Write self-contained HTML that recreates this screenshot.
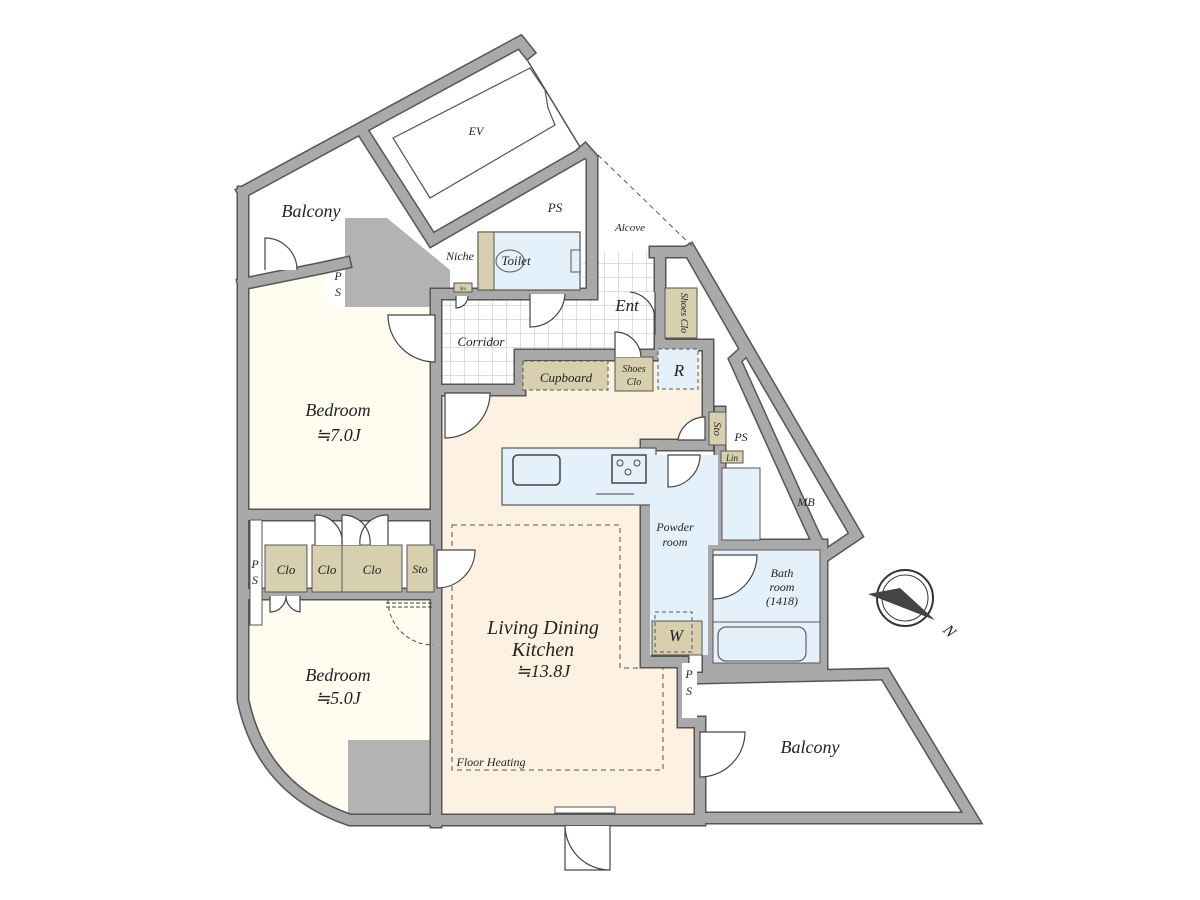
<!DOCTYPE html>
<html><head><meta charset="utf-8"><style>
html,body{margin:0;padding:0;background:#fff;width:1200px;height:900px;overflow:hidden}
text{font-family:"Liberation Serif",serif;font-style:italic;fill:#222}
</style></head><body>
<svg width="1200" height="900" viewBox="0 0 1200 900" xmlns="http://www.w3.org/2000/svg">
<defs>
<pattern id="grid" width="14" height="14" patternUnits="userSpaceOnUse" x="437" y="292">
<rect width="14" height="14" fill="#fff"/><path d="M14 0V14H0" fill="none" stroke="#bbb" stroke-width="1"/></pattern>
<g id="walls" fill="none" stroke-linejoin="miter" stroke-linecap="square">
<path d="M243,192 L243,700 Q262,790 350,820 L700,820"/>
<path d="M700,818 L972,818 L885,674 L700,678"/>
<path d="M243,192 L520,42 L528,52"/>
<path d="M243,284 L322,268 L345,263"/>
<path d="M363,132 L432,240 L585,152"/>
<path d="M585,150 L592,158 L592,292"/>
<path d="M436,300 L436,822"/>
<path d="M243,515 L436,515"/>
<path d="M243,594 L436,594"/>
<path d="M436,294 L592,294"/>
<path d="M655,252 L690,252 L746,350 L735,360 L808,522 L822,552 L822,668"/>
<path d="M690,250 L856,535 L825,556"/>
<path d="M660,252 L660,345 L708,345 L708,445 L646,445 L646,662 L683,662 L683,722 L700,722 L700,818"/>
<path d="M708,545 L822,545 M708,545 L708,668 L822,668"/>
<path d="M720,445 L720,548 M720,412 L720,445"/>
<path d="M520,355 L655,355 M520,355 L520,390 L437,390"/>
</g>
</defs>

<!-- fills -->
<polygon points="247,288 320,272 332,307 435,307 435,515 247,515" fill="#fefdf0"/>
<path d="M247,595 L435,595 L435,740 L348,740 L348,815 Q275,790 247,705 Z" fill="#fefdf0"/>
<polygon points="345,218 387,218 450,270 450,307 345,307" fill="#b3b3b3"/>
<polygon points="348,740 435,740 435,820 348,820" fill="#b3b3b3"/>
<polygon points="437,390 520,390 520,358 705,358 705,445 645,445 645,660 682,660 682,720 697,720 697,814 437,814" fill="#fdf1e1"/>
<polygon points="437,300 480,300 480,292 583,292 583,252 660,252 660,345 612,345 612,356 520,356 520,388 437,388" fill="url(#grid)"/>
<!-- EV -->
<polygon points="363,132 520,48 583,152 432,240" fill="#fff" stroke="#555" stroke-width="1.5"/>
<polygon points="393,138 530,68 545,90 548,108 555,125 430,198" fill="#fff" stroke="#555" stroke-width="1.2"/>

<!-- walls -->
<use href="#walls" stroke="#555" stroke-width="13"/>
<use href="#walls" stroke="#a9a9a9" stroke-width="10"/>

<!-- rooms on top -->
<rect x="478" y="232" width="102" height="58" fill="#e5f1fa" stroke="#555" stroke-width="1.2"/>
<rect x="478" y="232" width="16" height="58" fill="#d8cfae" stroke="#555" stroke-width="1"/>
<ellipse cx="510" cy="261" rx="14" ry="11" fill="#e5f1fa" stroke="#555"/>
<rect x="571" y="250" width="9" height="22" fill="#e5f1fa" stroke="#555"/>
<rect x="454" y="283" width="18" height="9" fill="#d8cfae" stroke="#555"/>
<rect x="665" y="288" width="32" height="50" fill="#d8cfae" stroke="#555"/>
<rect x="615" y="357" width="38" height="34" fill="#d8cfae" stroke="#555"/>
<rect x="523" y="361" width="85" height="29" fill="#d8cfae" stroke="#555" stroke-dasharray="4,3"/>
<rect x="658" y="349" width="40" height="40" fill="#e5f1fa" stroke="#555" stroke-dasharray="4,3"/>
<rect x="709" y="412" width="17" height="33" fill="#d8cfae" stroke="#555"/>
<rect x="502" y="448" width="154" height="57" fill="#e5f1fa" stroke="#555" stroke-width="1.2"/>
<rect x="513" y="455" width="47" height="30" rx="5" fill="#e5f1fa" stroke="#444" stroke-width="1.5"/>
<rect x="612" y="455" width="34" height="28" fill="#e5f1fa" stroke="#444" stroke-width="1.5"/>
<circle cx="620" cy="463" r="3" fill="none" stroke="#444"/><circle cx="637" cy="463" r="3" fill="none" stroke="#444"/><circle cx="628" cy="472" r="3" fill="none" stroke="#444"/>
<line x1="596" y1="494" x2="634" y2="494" stroke="#444"/>
<polygon points="650,455 718,455 718,545 708,545 708,655 650,655" fill="#e5f1fa"/>
<rect x="722" y="468" width="38" height="72" fill="#e5f1fa" stroke="#555"/>
<rect x="721" y="451" width="22" height="12" fill="#d8cfae" stroke="#555"/>
<rect x="713" y="550" width="107" height="113" fill="#e5f1fa" stroke="#555"/>
<line x1="713" y1="622" x2="820" y2="622" stroke="#555"/>
<rect x="718" y="627" width="88" height="34" rx="8" fill="#e5f1fa" stroke="#444"/>
<rect x="652" y="621" width="50" height="34" fill="#d8cfae" stroke="#555"/>
<rect x="655" y="612" width="37" height="40" fill="none" stroke="#555" stroke-dasharray="4,3"/>
<rect x="682" y="663" width="15" height="55" fill="#fff"/>
<!-- closets -->
<rect x="265" y="545" width="42" height="47" fill="#d8cfae" stroke="#555"/>
<rect x="312" y="545" width="90" height="47" fill="#d8cfae" stroke="#555"/>
<line x1="342" y1="545" x2="342" y2="592" stroke="#555"/>
<rect x="407" y="545" width="27" height="47" fill="#d8cfae" stroke="#555"/>
<rect x="250" y="520" width="12" height="105" fill="#fff" stroke="#555"/>
<!-- floor heating -->
<polygon points="452,525 620,525 620,668 663,668 663,770 452,770" fill="none" stroke="#555" stroke-dasharray="5,4"/>
<!-- dashed diagonal alcove -->
<line x1="598" y1="155" x2="692" y2="246" stroke="#555" stroke-dasharray="5,4"/>

<!-- doors -->
<g fill="#fff" stroke="#444" stroke-width="1.2">
<path d="M265,270 L265,238 A32,32 0 0 1 297,270"/>
<path d="M435,315 L388,315 A47,47 0 0 0 435,362 Z"/>
<path d="M445,393 L490,393 A45,45 0 0 1 445,438 Z"/>
<path d="M530,294 L530,327 A35,35 0 0 0 565,294"/>
<path d="M456,296 L456,308 A12,12 0 0 0 468,296"/>
<path d="M655,292 L655,320 A28,28 0 0 0 630,292 M615,357 L615,332 A26,26 0 0 1 641,357"/>
<path d="M655,335 L655,308"/>
<path d="M437,550 L475,550 A38,38 0 0 1 437,588 Z"/>
<path d="M700,732 L745,732 A45,45 0 0 1 700,777 Z"/>
<path d="M713,555 L757,555 A44,44 0 0 1 713,599 Z"/>
<path d="M668,455 L700,455 A32,32 0 0 1 668,487 Z"/>
<path d="M705,417 L705,440 L678,440 A27,27 0 0 1 705,417 Z"/>
<path d="M565,826 L565,870 L610,870 L610,826 M565,826 A45,45 0 0 0 610,870"/>
<path d="M315,545 L315,515 A27,27 0 0 1 342,545 M342,545 L342,515 A27,27 0 0 1 370,545 M388,545 L388,515 A27,27 0 0 0 360,545"/>
<path d="M270,596 L270,612 A16,16 0 0 0 286,596 M300,596 L300,612 A16,16 0 0 1 286,596"/>
</g>
<path d="M388,600 A45,45 0 0 0 433,645" fill="none" stroke="#444" stroke-dasharray="4,3"/>
<line x1="386" y1="603" x2="432" y2="603" stroke="#444" stroke-dasharray="4,2"/>
<line x1="386" y1="607" x2="432" y2="607" stroke="#444" stroke-dasharray="4,2"/>
<rect x="555" y="807" width="60" height="6" fill="#fff" stroke="#555"/>

<!-- compass -->
<circle cx="905" cy="598" r="28" fill="#fff" stroke="#333" stroke-width="2"/>
<circle cx="905" cy="598" r="23" fill="none" stroke="#333"/>
<polygon points="868,594 935,620 905,606" fill="#111"/>
<polygon points="868,594 935,620 900,588" fill="#444"/>
<text x="945" y="632" font-size="16" transform="rotate(45 945 628)">N</text>

<!-- labels -->
<g text-anchor="middle">
<text x="476" y="135" font-size="12">EV</text>
<text x="311" y="217" font-size="18">Balcony</text>
<text x="555" y="212" font-size="13">PS</text>
<text x="630" y="231" font-size="11">Alcove</text>
<text x="460" y="260" font-size="12">Niche</text>
<text x="516" y="265" font-size="13">Toilet</text>
<text x="338" y="280" font-size="12">P</text>
<text x="338" y="296" font-size="12">S</text>
<text x="463" y="290" font-size="5">Sto</text>
<text x="627" y="311" font-size="17">Ent</text>
<text x="681" y="313" font-size="10" transform="rotate(90 681 313)">Shoes Clo</text>
<text x="481" y="346" font-size="13">Corridor</text>
<text x="566" y="382" font-size="13">Cupboard</text>
<text x="634" y="372" font-size="10">Shoes</text>
<text x="634" y="385" font-size="10">Clo</text>
<text x="679" y="376" font-size="17">R</text>
<text x="338" y="416" font-size="18">Bedroom</text>
<text x="338" y="441" font-size="18">≒7.0J</text>
<text x="714" y="429" font-size="11" transform="rotate(90 714 429)">Sto</text>
<text x="741" y="441" font-size="12">PS</text>
<text x="732" y="461" font-size="9">Lin</text>
<text x="675" y="531" font-size="12">Powder</text>
<text x="675" y="546" font-size="12">room</text>
<text x="782" y="577" font-size="12">Bath</text>
<text x="782" y="591" font-size="12">room</text>
<text x="782" y="605" font-size="12">(1418)</text>
<text x="806" y="506" font-size="12">MB</text>
<text x="255" y="568" font-size="12">P</text>
<text x="255" y="584" font-size="12">S</text>
<text x="286" y="574" font-size="13">Clo</text>
<text x="327" y="574" font-size="13">Clo</text>
<text x="372" y="574" font-size="13">Clo</text>
<text x="420" y="573" font-size="12">Sto</text>
<text x="676" y="641" font-size="17">W</text>
<text x="543" y="634" font-size="20">Living Dining</text>
<text x="543" y="656" font-size="20">Kitchen</text>
<text x="543" y="677" font-size="18">≒13.8J</text>
<text x="491" y="766" font-size="12">Floor Heating</text>
<text x="338" y="681" font-size="18">Bedroom</text>
<text x="338" y="704" font-size="18">≒5.0J</text>
<text x="810" y="753" font-size="18">Balcony</text>
<text x="689" y="678" font-size="12">P</text>
<text x="689" y="695" font-size="12">S</text>
</g>
</svg>
</body></html>
